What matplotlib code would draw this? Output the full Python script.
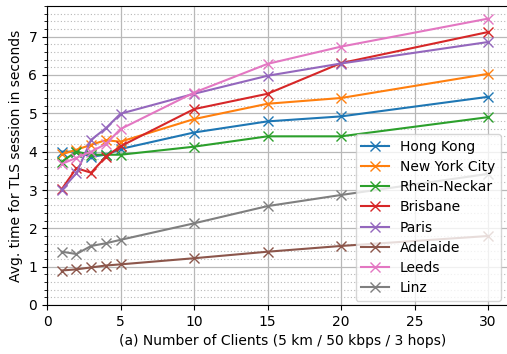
import matplotlib
matplotlib.use("Agg")
from matplotlib import pyplot as plt
from matplotlib.ticker import MultipleLocator

clients = [1, 2, 3, 4, 5, 10, 15, 20, 30]

hong_kong = [4.0, 4.0, 3.87, 3.92, 4.07, 4.5, 4.79, 4.92, 5.43]
new_york = [3.93, 4.05, 4.18, 4.3, 4.26, 4.85, 5.25, 5.4, 6.03]
rhein_neckar = [3.74, 4.0, 3.92, 3.92, 3.92, 4.13, 4.4, 4.4, 4.9]
brisbane = [3.02, 3.57, 3.45, 3.87, 4.14, 5.11, 5.51, 6.31, 7.12]
paris = [3.0, 3.44, 4.31, 4.61, 4.99, 5.51, 5.98, 6.3, 6.86]
adelaide = [0.9, 0.93, 0.98, 1.03, 1.06, 1.22, 1.39, 1.54, 1.8]
leeds = [3.68, 3.84, 4.0, 4.2, 4.59, 5.54, 6.29, 6.74, 7.47]
linz = [1.39, 1.33, 1.54, 1.61, 1.7, 2.13, 2.58, 2.87, 3.42]

series = [
    ("Hong Kong", hong_kong),
    ("New York City", new_york),
    ("Rhein-Neckar", rhein_neckar),
    ("Brisbane", brisbane),
    ("Paris", paris),
    ("Adelaide", adelaide),
    ("Leeds", leeds),
    ("Linz", linz),
]

fig = plt.figure(figsize=(5.07, 3.54), dpi=100)
# right edge of the axes runs past the image, like in the original crop
ax = fig.add_axes([47 / 507, 49 / 354, 470.4 / 507, 299 / 354])

for name, vals in series:
    ax.plot(clients, vals, marker="x", markersize=6.5, label=name)

ax.set_xlim(0, 32)
ax.set_ylim(0, 7.8)

ax.yaxis.set_major_locator(MultipleLocator(1))
ax.yaxis.set_minor_locator(MultipleLocator(0.2))
ax.xaxis.set_major_locator(MultipleLocator(5))

ax.grid(which="major", color="#b8b8b8", linewidth=0.9)
ax.grid(which="minor", axis="y", color="#b8b8b8", linestyle=(0, (1, 2)), linewidth=0.8)
ax.set_axisbelow(True)

ax.set_xlabel("(a) Number of Clients (5 km / 50 kbps / 3 hops)")
ax.set_ylabel("Avg. time for TLS session in seconds")
ax.legend(loc="lower right", bbox_to_anchor=(505 / 507, 49 / 354),
          bbox_transform=fig.transFigure, borderaxespad=0.3, labelspacing=0.45)

fig.savefig("out.png", dpi=100)
